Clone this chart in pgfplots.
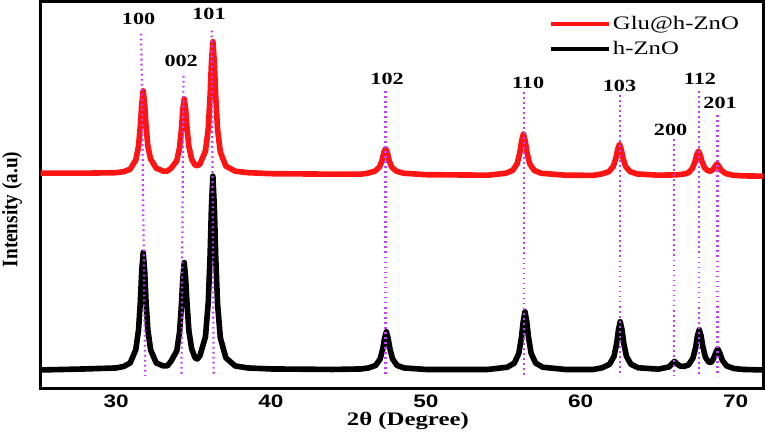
\documentclass[border=0pt]{standalone}
\usepackage{fontspec}
\usepackage{pgfplots}
\pgfplotsset{compat=1.18}
\setmainfont{Liberation Serif}
\newfontfamily\ticfont[FakeStretch=1.25]{Liberation Sans}
\newfontfamily\lblfont[FakeStretch=1.3]{Liberation Serif}
\newfontfamily\yfont[FakeStretch=0.87]{Liberation Serif}
\definecolor{glured}{RGB}{255,20,20}
\definecolor{peakviolet}{RGB}{200,60,255}

\begin{document}
\begin{tikzpicture}
\begin{axis}[
  width=360pt, height=192.5pt, scale only axis,
  xmin=25.13, xmax=71.8, ymin=0, ymax=385,
  xtick={30,40,50,60,70}, ytick=\empty,
  major tick length=0pt,
  axis line style={line width=1.5pt},
  /pgf/number format/assume math mode=true,
  xticklabel style={font=\ticfont\bfseries\fontsize{9}{10}\selectfont, anchor=center, yshift=-6.5pt},
  xlabel={2θ (Degree)},
  every axis x label/.style={at={([yshift=-16.5pt]rel axis cs:0.508,0)}, anchor=center,
    font=\lblfont\bfseries\fontsize{9.5}{11}\selectfont, inner sep=1pt},
  ylabel={Intensity (a.u)},
  every axis y label/.style={at={([xshift=-14.25pt]rel axis cs:0,0.462)}, anchor=center, rotate=90,
    font=\yfont\bfseries\fontsize{11}{12}\selectfont, inner sep=1pt},
  clip mode=individual,
  legend cell align=left,
  legend image code/.code={\draw[#1, line width=2pt] (0pt,0pt) -- (29pt,0pt);},
  legend style={draw=none, fill=none, at={(axis cs:57.9,373)}, anchor=north west,
    font=\lblfont\fontsize{9.5}{10.5}\selectfont, inner sep=0pt, row sep=2.3pt,
    nodes={inner sep=1pt}},
]
% Glu@h-ZnO
\addplot[glured, line width=2.8pt, line join=round] coordinates {
(25.13,214) (28,214) (30,214.5) (30.5,215.5)
(30.91,218) (31.27,227) (31.45,241) (31.57,262) (31.654,282) (31.75,296)
(31.846,282) (31.93,262) (32.05,241) (32.23,228) (32.59,219) (33.05,216) (33.3,216)
(33.56,219) (33.92,226.4) (34.1,239.6) (34.22,258) (34.304,277) (34.4,288)
(34.496,277) (34.58,258.7) (34.7,240.6) (34.88,228) (35.1,222) (35.25,221.5)
(35.41,223) (35.77,236) (35.95,258) (36.07,291) (36.154,323) (36.25,345)
(36.346,323) (36.43,291) (36.55,258) (36.73,235) (37.09,221) (37.69,216)
(38.5,214.5) (40,213.5) (44,213) (45.8,213)
(46.25,214) (46.71,216) (47.0,220) (47.17,226.5) (47.285,234.5) (47.4,238.5)
(47.515,234.5) (47.63,226.5) (47.8,220) (48.09,216) (48.55,214) (50,212.5) (54,212)
(55.15,213.9) (55.61,216.8) (55.9,223.6) (56.07,234.6) (56.185,246) (56.3,253)
(56.415,246) (56.53,234.6) (56.7,223.6) (56.99,216.8) (57.45,213.9) (59,212) (60.8,211.8)
(61.35,213.2) (61.81,215.5) (62.1,220.6) (62.27,228.9) (62.385,237.5) (62.5,242.8)
(62.615,237.5) (62.73,228.9) (62.9,220.6) (63.19,215.5) (63.65,213.2) (65,212) (66.1,212.3)
(66.62,213) (66.96,214.5) (67.2,218.6) (67.37,225) (67.485,232) (67.6,236)
(67.715,232) (67.83,225.5) (68.0,219.3) (68.2,216.5) (68.38,216)
(68.54,217.6) (68.66,220.5) (68.8,223.3) (68.94,220.3) (69.08,216.9) (69.35,213.7)
(69.8,212) (70.5,211.3) (71.8,211)
};
\addlegendentry{Glu@h-ZnO}
% h-ZnO
\addplot[black, line width=2.8pt, line join=round] coordinates {
(25.13,18) (28,19) (30,20) (30.5,21.5)
(30.91,25) (31.27,38) (31.45,58) (31.57,87) (31.654,116) (31.75,135)
(31.846,116) (31.93,87) (32.05,58) (32.23,38) (32.59,25) (33.05,22) (33.3,22)
(33.56,27) (33.92,37) (34.1,56) (34.22,83) (34.304,108) (34.4,125)
(34.496,108) (34.58,84) (34.7,57) (34.88,39) (35.1,30) (35.25,29)
(35.41,32) (35.77,51) (35.95,85) (36.07,132) (36.154,179) (36.25,211)
(36.346,179) (36.43,132) (36.55,84) (36.73,50) (37.09,30) (37.69,22)
(38.5,20) (40,19) (44,18.5) (45.8,19)
(46.3,20) (46.76,22.5) (47.05,29) (47.22,39) (47.335,49.5) (47.45,56)
(47.565,49.5) (47.68,39) (47.85,29) (48.14,22.5) (48.6,20) (50,18.5) (54,18.5)
(55.25,20.7) (55.71,24.8) (56.0,34.4) (56.17,50) (56.285,66) (56.4,76)
(56.515,66) (56.63,50) (56.8,34.4) (57.09,24.8) (57.55,20.7) (59,18.5) (60.8,18.5)
(61.4,20.2) (61.86,23.7) (62.15,31.6) (62.32,44.4) (62.435,57.8) (62.55,66)
(62.665,57.8) (62.78,44.4) (62.95,31.6) (63.24,23.7) (63.7,20.2) (65.0,18.8)
(65.7,21) (65.88,24) (66.05,26.5) (66.22,24) (66.4,22) (66.65,21.5)
(66.96,23) (67.25,30) (67.42,40.6) (67.535,52) (67.65,58)
(67.765,52.3) (67.88,41.5) (68.05,30.6) (68.25,26) (68.42,25.5)
(68.56,29) (68.7,34.4) (68.85,39) (69.0,34) (69.14,27.7) (69.42,22)
(69.9,19.4) (70.5,18.5) (71.8,18)
};
\addlegendentry{h-ZnO}
% reflection guides
\pgfplotsset{every axis plot/.append style={forget plot}}
\addplot[peakviolet, line width=1.1pt, dash pattern=on 0.9pt off 1.6pt] coordinates {(31.62,353) (31.88,12)};
\addplot[peakviolet, line width=1.1pt, dash pattern=on 0.9pt off 1.6pt] coordinates {(34.35,311) (34.22,12)};
\addplot[peakviolet, line width=1.1pt, dash pattern=on 0.9pt off 1.6pt] coordinates {(36.17,356) (36.30,12)};
\addplot[peakviolet, line width=1.1pt, dash pattern=on 0.9pt off 1.6pt] coordinates {(47.40,296) (47.40,12)};
\addplot[peakviolet, line width=1.1pt, dash pattern=on 0.9pt off 1.6pt] coordinates {(56.36,295) (56.36,12)};
\addplot[peakviolet, line width=1.1pt, dash pattern=on 0.9pt off 1.6pt] coordinates {(62.53,292) (62.53,12)};
\addplot[peakviolet, line width=1.1pt, dash pattern=on 0.9pt off 1.6pt] coordinates {(66.04,248) (66.04,12)};
\addplot[peakviolet, line width=1.1pt, dash pattern=on 0.9pt off 1.6pt] coordinates {(67.66,296) (67.66,12)};
\addplot[peakviolet, line width=1.1pt, dash pattern=on 0.9pt off 1.6pt] coordinates {(68.83,272) (68.83,12)};
\begin{scope}[every node/.style={font=\lblfont\bfseries\fontsize{8.5}{9}\selectfont, inner sep=0pt}]
\node at (axis cs:31.45,368) {100};
\node at (axis cs:34.20,326) {002};
\node at (axis cs:36.00,373) {101};
\node at (axis cs:47.50,308) {102};
\node at (axis cs:56.60,304) {110};
\node at (axis cs:62.50,301) {103};
\node at (axis cs:65.80,257) {200};
\node at (axis cs:67.70,308) {112};
\node at (axis cs:69.00,284) {201};
\end{scope}
\end{axis}
\end{tikzpicture}
\end{document}
